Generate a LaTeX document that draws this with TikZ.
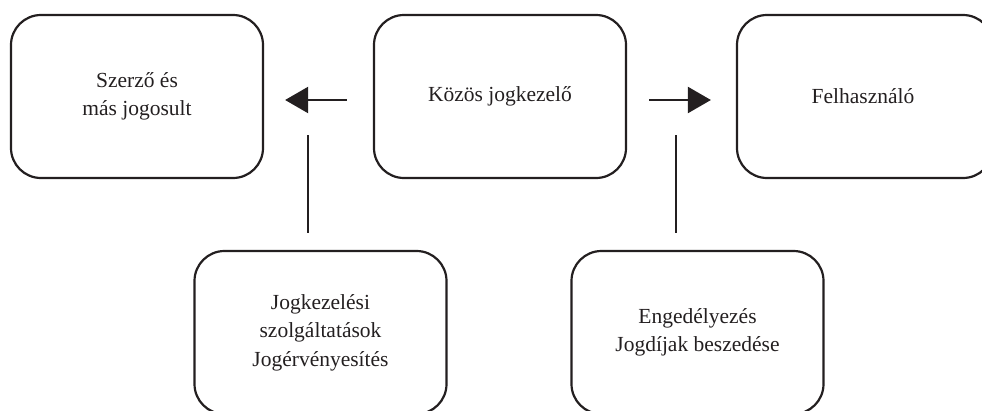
\documentclass[tikz,border=0pt]{standalone}
\usepackage{fontspec}
\setmainfont{Liberation Serif}
\usetikzlibrary{arrows.meta}
\definecolor{ink}{HTML}{231F20}
\tikzset{
  box/.style={draw=ink, line width=2.2pt, rounded corners=30pt, rectangle,
    minimum width=252pt, minimum height=163pt, inner sep=0pt,
    align=center, text=ink, font=\fontsize{21.5pt}{28.5pt}\selectfont},
  conn/.style={draw=ink, line width=2.2pt},
  arr/.style={conn, -{Triangle[length=23pt,width=26pt]}}
}
\begin{document}
\begin{tikzpicture}[x=1pt,y=-1pt]
\useasboundingbox (0,0) rectangle (982,410);
\clip (0,0) rectangle (982,410);
\node[box] (szerzo) at (137,96.5) {Szerző és\\más jogosult};
\node[box] (kozos) at (500,96.5) {Közös jogkezelő};
\node[box, minimum width=256pt] (felh) at (865,96.5) {Felhasználó\hspace*{4pt}};
\node[box] (jogk) at (320.5,332.5) {Jogkezelési\\szolgáltatások\\Jogérvényesítés};
\node[box] (enged) at (697.5,332.5) {Engedélyezés\\Jogdíjak beszedése};
\draw[arr, shorten <=26pt, shorten >=21pt] ([yshift=-3.5pt]kozos.west) -- ([yshift=-3.5pt]szerzo.east);
\draw[arr, shorten <=22pt, shorten >=25pt] ([yshift=-3.5pt]kozos.east) -- ([yshift=-3.5pt]felh.west);
\coordinate (ltop) at (308,135);
\coordinate (rtop) at (676,135);
\draw[conn, shorten <=17pt] (ltop |- jogk.north) -- (ltop);
\draw[conn, shorten <=17pt] (rtop |- enged.north) -- (rtop);
\end{tikzpicture}
\end{document}
